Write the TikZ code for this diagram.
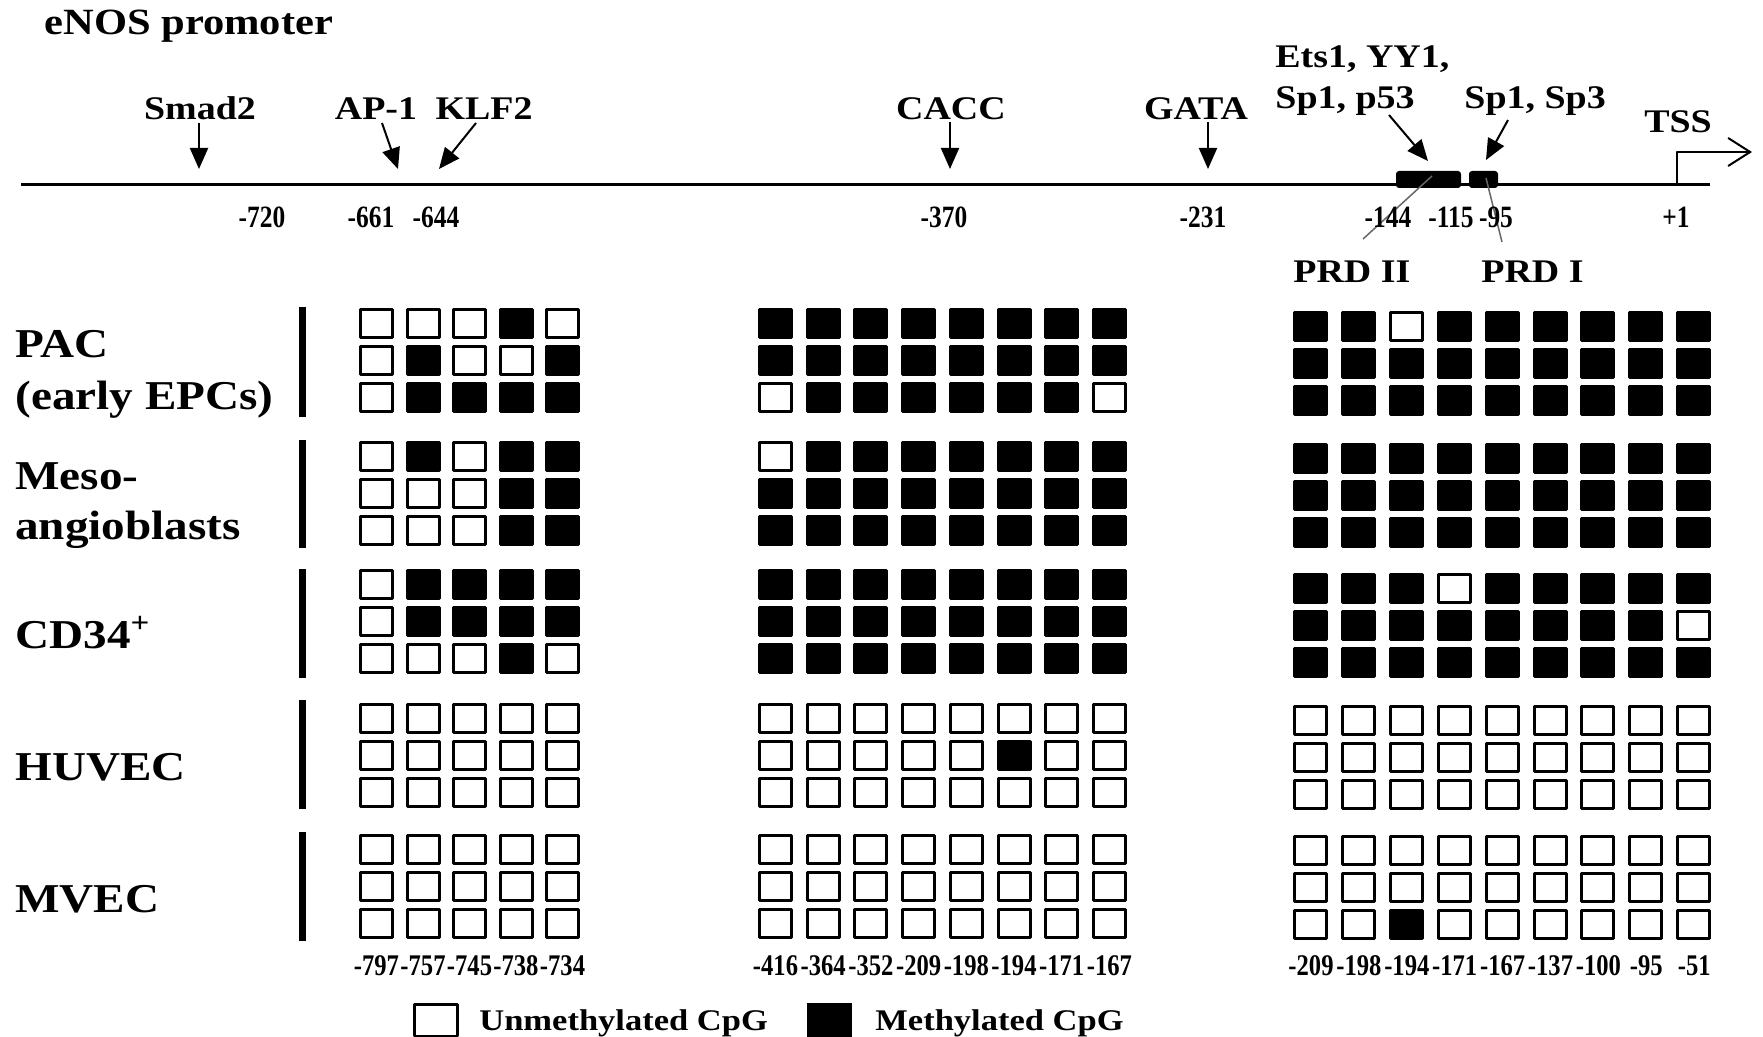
\documentclass[tikz,border=0pt]{standalone}
\usepackage{fontspec}
\setmainfont{Liberation Serif}[FakeStretch=1.15]
\newfontfamily\numfont{Liberation Serif}[FakeStretch=0.82]
\usepackage{tikz}
\usetikzlibrary{arrows.meta}

\colorlet{cpgfill0}{white}
\colorlet{cpgfill1}{black}

% #1 first column, #2 column pitch, #3 top of first row, #4 rows of 0/1
\newcommand{\cpgblock}[4]{%
  \foreach \cpgrow [count=\r from 0] in {#4} {
    \foreach \m [count=\c from 0] in \cpgrow {
      \path[cpg=\m] ({#1+\c*#2+1.5},{#3+\r*37+1.5}) rectangle +(32,28);
    }
  }%
}

\begin{document}
\begin{tikzpicture}[x=0.5pt,y=-0.5pt,line join=round,
  tflab/.style={font=\fontsize{16.5}{18}\selectfont\bfseries,inner sep=0pt},
  bplab/.style={font=\numfont\fontsize{15.5}{17}\selectfont\bfseries,inner sep=0pt},
  celllab/.style={font=\fontsize{20.5}{24}\selectfont\bfseries,inner sep=0pt,anchor=base west},
  cpglab/.style={font=\numfont\fontsize{15}{17}\selectfont\bfseries,inner sep=0pt},
  tfarrow/.style={line width=1pt,-{Triangle[length=10.5pt,width=9pt]}},
  cpg/.style={draw=black,line width=1.5pt,fill=cpgfill#1},
  cellbar/.style={line width=3.5pt},
  prdline/.style={black!60,line width=0.75pt}]
  \useasboundingbox (0,0) rectangle (1763,1037);

  \node[anchor=base west,inner sep=0pt,font=\fontsize{18.5}{20}\selectfont\bfseries] (title) at (44,35) {eNOS promoter};

  % promoter line
  \coordinate (L0) at (21,185);
  \coordinate (L1) at (1710,185);
  \coordinate (T0) at (1677,185);
  \coordinate (T1) at (1677,152);
  \coordinate (T2) at (1752,152);
  \draw[line width=1.5pt] (L0) -- (L1);
  \draw[line width=1pt,-{Straight Barb[length=11pt,width=14pt]}] (T0) -- (T1) -- (T2);
  \fill[rounded corners=1.5pt] (1396,171) rectangle (1461,188);
  \fill[rounded corners=1.5pt] (1469,171) rectangle (1498,188);

  \node[tflab,anchor=base] (smad) at (200,120) {Smad2};
  \node[tflab,anchor=base] (ap) at (376,120) {AP-1};
  \node[tflab,anchor=base] (klf) at (484,120) {KLF2};
  \node[tflab,anchor=base] (cacc) at (951,120) {CACC};
  \node[tflab,anchor=base] (gata) at (1196,120) {GATA};
  \node[tflab,anchor=base west] (ets) at (1275,68) {Ets1, YY1,};
  \node[tflab,anchor=base west] (spa) at (1275,109) {Sp1, p53};
  \node[tflab,anchor=base west] (spb) at (1464,109) {Sp1, Sp3};
  \node[tflab,anchor=base] (tss) at (1678,133) {TSS};
  \node[tflab,anchor=base west] (prdb) at (1293,283) {PRD II};
  \node[tflab,anchor=base west] (prda) at (1481,283) {PRD I};

  \coordinate (smadT) at (199,123);  \coordinate (smadH) at (199,169);
  \coordinate (apT) at (382,123);    \coordinate (apH) at (398,169);
  \coordinate (klfT) at (476,123);   \coordinate (klfH) at (439,169);
  \coordinate (caccT) at (950,122);  \coordinate (caccH) at (950,169);
  \coordinate (gataT) at (1208,122); \coordinate (gataH) at (1208,169);
  \coordinate (etsT) at (1389,115);  \coordinate (etsH) at (1428,161);
  \coordinate (spbT) at (1508,120);  \coordinate (spbH) at (1486,160);
  \draw[tfarrow] (smadT) -- (smadH);
  \draw[tfarrow] (apT) -- (apH);
  \draw[tfarrow] (klfT) -- (klfH);
  \draw[tfarrow] (caccT) -- (caccH);
  \draw[tfarrow] (gataT) -- (gataH);
  \draw[tfarrow] (etsT) -- (etsH);
  \draw[tfarrow] (spbT) -- (spbH);

  \coordinate (prdbA) at (1432,176); \coordinate (prdbB) at (1363,239);
  \coordinate (prdaA) at (1486,178); \coordinate (prdaB) at (1502,242);
  \draw[prdline] (prdbA) -- (prdbB);
  \draw[prdline] (prdaA) -- (prdaB);

  \node[bplab] (p720) at (262,217) {-720};
  \node[bplab] (p661) at (371,217) {-661};
  \node[bplab] (p644) at (436,217) {-644};
  \node[bplab] (p370) at (944,217) {-370};
  \node[bplab] (p231) at (1203,217) {-231};
  \node[bplab] (p144) at (1388,217) {-144};
  \node[bplab] (p115) at (1451,217) {-115};
  \node[bplab] (p95) at (1496,217) {-95};
  \node[bplab] (p1) at (1676,217) {+1};

  % cell types
  \node[celllab] (pac) at (15,358) {PAC};
  \node[celllab] (epc) at (15,410) {(early EPCs)};
  \node[celllab] (meso) at (15,490) {Meso-};
  \node[celllab] (angio) at (15,540) {angioblasts};
  \node[celllab] (cd) at (15,648) {CD34\textsuperscript{+}};
  \node[celllab] (huvec) at (15,780) {HUVEC};
  \node[celllab] (mvec) at (15,912) {MVEC};
  \draw[cellbar] (302,307) -- (302,417);
  \draw[cellbar] (302,440) -- (302,548);
  \draw[cellbar] (302,569) -- (302,678);
  \draw[cellbar] (302,700) -- (302,809);
  \draw[cellbar] (302,832) -- (302,941);

  % PAC
  \cpgblock{359}{46.5}{308}{{0,0,0,1,0},{0,1,0,0,1},{0,1,1,1,1}}
  \cpgblock{758}{47.7}{308}{{1,1,1,1,1,1,1,1},{1,1,1,1,1,1,1,1},{0,1,1,1,1,1,1,0}}
  \cpgblock{1293}{47.9}{311}{{1,1,0,1,1,1,1,1,1},{1,1,1,1,1,1,1,1,1},{1,1,1,1,1,1,1,1,1}}
  % Meso-angioblasts
  \cpgblock{359}{46.5}{441}{{0,1,0,1,1},{0,0,0,1,1},{0,0,0,1,1}}
  \cpgblock{758}{47.7}{441}{{0,1,1,1,1,1,1,1},{1,1,1,1,1,1,1,1},{1,1,1,1,1,1,1,1}}
  \cpgblock{1293}{47.9}{443}{{1,1,1,1,1,1,1,1,1},{1,1,1,1,1,1,1,1,1},{1,1,1,1,1,1,1,1,1}}
  % CD34+
  \cpgblock{359}{46.5}{569}{{0,1,1,1,1},{0,1,1,1,1},{0,0,0,1,0}}
  \cpgblock{758}{47.7}{569}{{1,1,1,1,1,1,1,1},{1,1,1,1,1,1,1,1},{1,1,1,1,1,1,1,1}}
  \cpgblock{1293}{47.9}{573}{{1,1,1,0,1,1,1,1,1},{1,1,1,1,1,1,1,1,0},{1,1,1,1,1,1,1,1,1}}
  % HUVEC
  \cpgblock{359}{46.5}{703}{{0,0,0,0,0},{0,0,0,0,0},{0,0,0,0,0}}
  \cpgblock{758}{47.7}{703}{{0,0,0,0,0,0,0,0},{0,0,0,0,0,1,0,0},{0,0,0,0,0,0,0,0}}
  \cpgblock{1293}{47.9}{705}{{0,0,0,0,0,0,0,0,0},{0,0,0,0,0,0,0,0,0},{0,0,0,0,0,0,0,0,0}}
  % MVEC
  \cpgblock{359}{46.5}{834}{{0,0,0,0,0},{0,0,0,0,0},{0,0,0,0,0}}
  \cpgblock{758}{47.7}{834}{{0,0,0,0,0,0,0,0},{0,0,0,0,0,0,0,0},{0,0,0,0,0,0,0,0}}
  \cpgblock{1293}{47.9}{835}{{0,0,0,0,0,0,0,0,0},{0,0,0,0,0,0,0,0,0},{0,0,1,0,0,0,0,0,0}}

  \foreach \lab [count=\i from 0] in {-797,-757,-745,-738,-734}
    \node[cpglab] (ga\i) at ({376.5+\i*46.5},966) {\lab};
  \foreach \lab [count=\i from 0] in {-416,-364,-352,-209,-198,-194,-171,-167}
    \node[cpglab] (gb\i) at ({775.5+\i*47.7},966) {\lab};
  \foreach \lab [count=\i from 0] in {-209,-198,-194,-171,-167,-137,-100,-95,-51}
    \node[cpglab] (gc\i) at ({1311+\i*47.9},966) {\lab};

  % legend
  \draw[line width=1.25pt] (414.5,1004.5) rectangle (457.5,1036);
  \fill (807,1003) rectangle (852,1037);
  \node[anchor=base west,inner sep=0pt,font=\fontsize{15}{17}\selectfont\bfseries] (unm) at (479,1030) {Unmethylated CpG};
  \node[anchor=base west,inner sep=0pt,font=\fontsize{15}{17}\selectfont\bfseries] (met) at (875,1030) {Methylated CpG};
\end{tikzpicture}
\end{document}
